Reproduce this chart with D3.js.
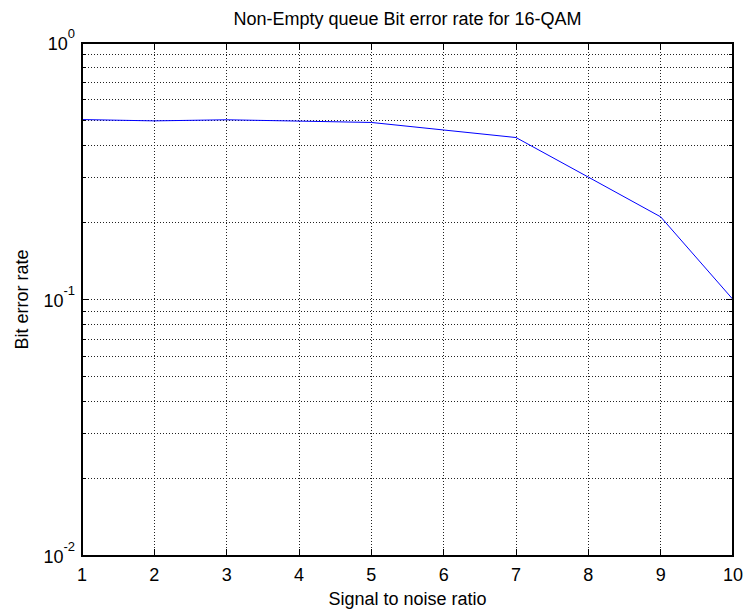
<!DOCTYPE html>
<html>
<head>
<meta charset="utf-8">
<script src="https://cdnjs.cloudflare.com/ajax/libs/d3/7.8.4/d3.min.js"></script>
<style>
  body { margin: 0; background: #fff; }
  text { font-family: "Liberation Sans", Arial, sans-serif; fill: #000; }
</style>
</head>
<body>
<div id="chart"></div>
<script>
// données
const snr = [1, 2, 3, 4, 5, 6, 7, 8, 9, 10];
const ber = [0.503, 0.497, 0.502, 0.496, 0.49, 0.458, 0.428, 0.3, 0.21, 0.1];
const xTicks = [1, 2, 3, 4, 5, 6, 7, 8, 9, 10];
const yDecades = [-2, -1, 0];

const W = 746, H = 611;
const margin = { top: 43, right: 13, bottom: 55, left: 82 };
const width = W - margin.left - margin.right,
  height = H - margin.top - margin.bottom;

const svg = d3.select("#chart").append("svg")
  .attr("width", W).attr("height", H);
const g = svg.append("g")
  .attr("transform", `translate(${margin.left},${margin.top})`);

const x = d3.scaleLinear().domain([1, 10]).range([0, width]);
const y = d3.scaleLog().domain([0.01, 1]).range([height, 0]);

// graduations log (majeures + mineures)
const yAll = [];
for (let e = -2; e < 0; e++) {
  for (let m = 1; m <= 9; m++) yAll.push(m * Math.pow(10, e));
}
yAll.push(1);
const yMinor = yAll.filter((v) => !yDecades.some((e) => Math.abs(Math.log10(v) - e) < 1e-9));

// grille
const grid = g.append("g")
  .attr("stroke", "#222").attr("stroke-width", 1)
  .attr("stroke-dasharray", "1,2").attr("shape-rendering", "crispEdges");
grid.selectAll(".gx").data(xTicks.slice(1, -1)).enter().append("line")
  .attr("x1", (d) => x(d)).attr("x2", (d) => x(d))
  .attr("y1", 0).attr("y2", height);
grid.selectAll(".gy").data(yAll.filter((v) => v > 0.01 && v < 1)).enter().append("line")
  .attr("x1", 0).attr("x2", width)
  .attr("y1", (d) => y(d)).attr("y2", (d) => y(d));

// courbe
const line = d3.line().x((d, i) => x(snr[i])).y((d) => y(d));
g.append("path").datum(ber)
  .attr("fill", "none").attr("stroke", "#0000ff").attr("stroke-width", 1)
  .attr("d", line);

// cadre et graduations intérieures
const ticks = g.append("g").attr("stroke", "#000").attr("shape-rendering", "crispEdges");
xTicks.forEach((t) => {
  ticks.append("line").attr("x1", x(t)).attr("x2", x(t)).attr("y1", height).attr("y2", height - 7);
  ticks.append("line").attr("x1", x(t)).attr("x2", x(t)).attr("y1", 0).attr("y2", 7);
});
yMinor.forEach((v) => {
  ticks.append("line").attr("x1", 0).attr("x2", 4).attr("y1", y(v)).attr("y2", y(v));
  ticks.append("line").attr("x1", width).attr("x2", width - 4).attr("y1", y(v)).attr("y2", y(v));
});
yDecades.forEach((e) => {
  const v = Math.pow(10, e);
  ticks.append("line").attr("x1", 0).attr("x2", 7).attr("y1", y(v)).attr("y2", y(v));
  ticks.append("line").attr("x1", width).attr("x2", width - 7).attr("y1", y(v)).attr("y2", y(v));
});
g.append("rect").attr("width", width).attr("height", height)
  .attr("fill", "none").attr("stroke", "#000").attr("stroke-width", 1.5)
  .attr("shape-rendering", "crispEdges");

// étiquettes axe X
g.selectAll(".xl").data(xTicks).enter().append("text")
  .attr("x", (d) => x(d)).attr("y", height + 25)
  .attr("text-anchor", "middle").attr("font-size", 18)
  .text((d) => d);

// étiquettes axe Y : 10^e
yDecades.forEach((e) => {
  const t = g.append("text")
    .attr("x", -7).attr("y", y(Math.pow(10, e)) + 7)
    .attr("text-anchor", "end").attr("font-size", 18);
  t.append("tspan").text("10");
  t.append("tspan").attr("dy", -12).attr("font-size", 13).text(e);
});

// titres
svg.append("text")
  .attr("x", margin.left + width / 2).attr("y", 25)
  .attr("text-anchor", "middle").attr("font-size", 18)
  .text("Non-Empty queue Bit error rate for 16-QAM");
svg.append("text")
  .attr("x", margin.left + width / 2).attr("y", 605)
  .attr("text-anchor", "middle").attr("font-size", 18)
  .text("Signal to noise ratio");
svg.append("text")
  .attr("transform", `translate(28,${margin.top + height / 2}) rotate(-90)`)
  .attr("text-anchor", "middle").attr("font-size", 18)
  .text("Bit error rate");
</script>
</body>
</html>
